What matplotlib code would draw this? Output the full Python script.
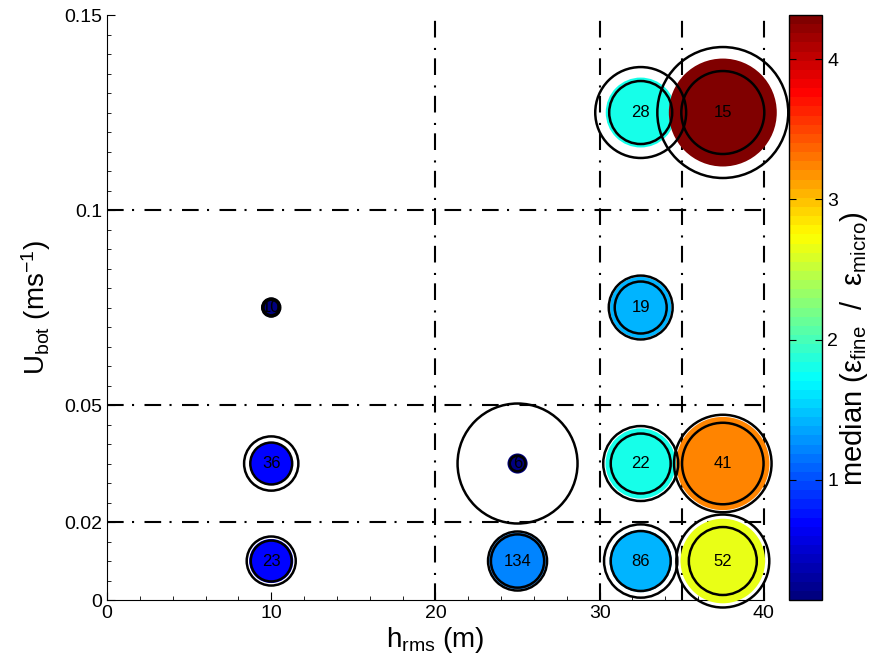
import numpy as np
import matplotlib
matplotlib.use("Agg")
import matplotlib.pyplot as plt
from matplotlib.colors import LinearSegmentedColormap
from matplotlib.ticker import MultipleLocator

plt.rcParams['font.family'] = ['Liberation Sans', 'DejaVu Sans']
plt.rcParams['mathtext.fontset'] = 'custom'
plt.rcParams['mathtext.rm'] = 'Liberation Sans'
plt.rcParams['mathtext.it'] = 'Liberation Sans:italic'

# bin centres
h_rms = [10, 10, 10, 25, 25, 32.5, 32.5, 32.5, 32.5, 37.5, 37.5, 37.5]
u_bot = [0.01, 0.035, 0.075, 0.01, 0.035, 0.01, 0.035, 0.075, 0.125, 0.01, 0.035, 0.125]
# number of samples per bin
n_obs = [23, 36, 10, 134, 6, 86, 22, 19, 28, 52, 41, 15]
# eps_fine / eps_micro statistics per bin
ratio_median = [0.72, 0.68, 0.143, 1.19, 0.15, 1.44, 1.83, 1.39, 1.81, 2.65, 3.22, 4.314]
ratio_q25 = [0.62, 0.65, 0.09, 1.05, 0.09, 1.33, 1.33, 1.00, 1.47, 1.71, 2.46, 2.55]
ratio_q75 = [0.89, 1.09, 0.12, 1.29, 5.33, 1.99, 2.08, 1.51, 3.06, 3.20, 3.52, 6.35]

h_bounds = [20, 30, 35, 40]
u_bounds = [0.02, 0.05, 0.1]
xticks = [0, 10, 20, 30, 40]
yticks = [0, 0.02, 0.05, 0.1, 0.15]
ytick_labels = ['0', '0.02', '0.05', '0.1', '0.15']
cbar_ticks = [1, 2, 3, 4]

# matlab style jet
jet_m = LinearSegmentedColormap('jet_m', {
    'red':   [(0, 0, 0), (3/8, 0, 0), (5/8, 1, 1), (7/8, 1, 1), (1, 0.5, 0.5)],
    'green': [(0, 0, 0), (1/8, 0, 0), (3/8, 1, 1), (5/8, 1, 1), (7/8, 0, 0), (1, 0, 0)],
    'blue':  [(0, 0.5, 0.5), (1/8, 1, 1), (3/8, 1, 1), (5/8, 0, 0), (1, 0, 0)],
}, N=64)

K = 1400  # marker area per unit ratio
vmin, vmax = min(ratio_median), max(ratio_median)

fig = plt.figure(figsize=(8.7, 6.59), dpi=100)
ax = fig.add_axes([0.123, 0.0895, 0.755, 0.8877])
cax = fig.add_axes([0.907, 0.0895, 0.038, 0.8877])

dashdot = (0, (8, 4, 1, 5))
ax.hlines(u_bounds, 0, 40, colors='k', linewidth=1.5, linestyles=[dashdot], zorder=1)
ax.vlines(h_bounds, 0, 0.15, colors='k', linewidth=1.5, linestyles=[dashdot],
          zorder=1, clip_on=False)

sc = ax.scatter(h_rms, u_bot, s=K * np.array(ratio_median), c=ratio_median,
                cmap=jet_m, vmin=vmin, vmax=vmax, edgecolors='none',
                zorder=3, clip_on=False)
ax.scatter(h_rms, u_bot, s=K * np.array(ratio_q25), facecolors='none',
           edgecolors='k', linewidths=1.8, zorder=4, clip_on=False)
ax.scatter(h_rms, u_bot, s=K * np.array(ratio_q75), facecolors='none',
           edgecolors='k', linewidths=1.8, zorder=4, clip_on=False)

for x, y, n in zip(h_rms, u_bot, n_obs):
    ax.text(x, y, str(n), ha='center', va='center', fontsize=12, zorder=5)

ax.set_xlim(0, 40)
ax.set_ylim(0, 0.15)
ax.set_xticks(xticks)
ax.set_yticks(yticks)
ax.set_yticklabels(ytick_labels)
ax.xaxis.set_minor_locator(MultipleLocator(2))
ax.yaxis.set_minor_locator(MultipleLocator(0.005))
ax.tick_params(which='both', direction='in', labelsize=14)
ax.tick_params(which='major', length=6)
ax.tick_params(which='minor', length=3)
for side in ['top', 'right']:
    ax.spines[side].set_visible(False)

ax.set_xlabel('h$_{\\rm rms}$ (m)', fontsize=20, labelpad=2)
ax.set_ylabel('U$_{\\rm bot}$ (ms$^{-1}$)', fontsize=20, labelpad=8)

cb = fig.colorbar(sc, cax=cax)
cb.set_ticks(cbar_ticks)
cax.tick_params(direction='in', labelsize=14, length=5, left=True, right=True)
cb.outline.set_linewidth(1.0)
cb.set_label('median (ε$_{\\rm fine}$  /  ε$_{\\rm micro}$)', fontsize=21, labelpad=0)
cax.yaxis.label.set_y(0.43)

fig.savefig('out.png', dpi=100)
